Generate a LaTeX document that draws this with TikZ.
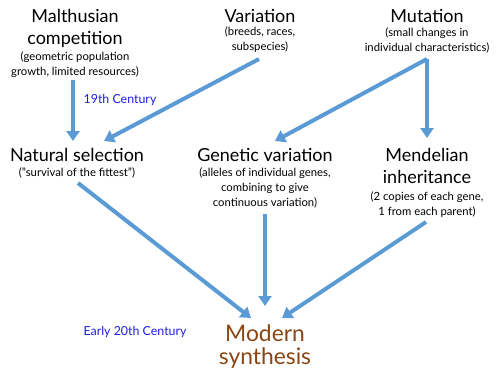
\documentclass[tikz,border=0pt]{standalone}
\usepackage{fontspec}
\setmainfont{Lato}
\usetikzlibrary{arrows.meta}
\definecolor{arrowblue}{RGB}{91,155,213}
\definecolor{eraBlue}{RGB}{30,30,230}
\definecolor{modbrown}{RGB}{139,69,19}
\tikzset{
  title/.style={anchor=base, inner sep=0pt, align=center, font=\fontsize{18}{22}\selectfont},
  sub/.style={anchor=base, inner sep=0pt, align=center, font=\fontsize{11.3}{15}\selectfont},
  era/.style={anchor=base, inner sep=0pt, text=eraBlue, font=\fontsize{12.4}{14}\selectfont},
  arr/.style={draw=arrowblue, line width=4pt, -{Triangle[width=13pt,length=10pt]}}
}
\begin{document}
\begin{tikzpicture}[x=1pt,y=-1pt]
\useasboundingbox (0,0) rectangle (500,375);
% texts (anchor base = baseline of last line)
\node[title] (malth) at (75,44) {Malthusian\\competition};
\node[sub] (malthsub) at (75,75) {(geometric population\\growth, limited resources)};
\node[title] (var) at (260,22) {Variation};
\node[sub] (varsub) at (260,50) {(breeds, races,\\subspecies)};
\node[title] (mut) at (427,22) {Mutation};
\node[sub] (mutsub) at (427,51) {(small changes in\\individual characteristics)};
\node[title] (nat) at (77,161) {Natural selection};
\node[sub] (natsub) at (77,176) {("survival of the fittest")};
\node[title] (gen) at (265,161) {Genetic variation};
\node[sub] (gensub) at (265,206) {(alleles of individual genes,\\combining to give\\continuous variation)};
\node[title] (mend) at (427,183) {Mendelian\\inheritance};
\node[sub] (mendsub) at (427,215) {(2 copies of each gene,\\1 from each parent)};
\node[anchor=base, inner sep=0pt, align=center, text=modbrown, font=\fontsize{22.8}{23}\selectfont] (mod) at (265,364) {Modern\\synthesis};
\node[era] (c19) at (120,103) {19th Century};
\node[era] (c20) at (135,335) {Early 20th Century};
% connector end points
\coordinate (mA) at (73,80);
\coordinate (nA) at (73,141);
\coordinate (vA) at (259,59);
\coordinate (nB) at (104,141);
\coordinate (uA) at (427,59);
\coordinate (gA) at (275,141);
\coordinate (dA) at (427,138);
\coordinate (nC) at (78,183);
\coordinate (sA) at (251,318);
\coordinate (gB) at (265,214);
\coordinate (sB) at (265,306);
\coordinate (dB) at (426,222);
\coordinate (sC) at (282,318);
\draw[arr] (mA) -- (nA);
\draw[arr] (vA) -- (nB);
\draw[arr] (uA) -- (gA);
\draw[arr] (uA) -- (dA);
\draw[arr] (nC) -- (sA);
\draw[arr] (gB) -- (sB);
\draw[arr] (dB) -- (sC);
\end{tikzpicture}
\end{document}
